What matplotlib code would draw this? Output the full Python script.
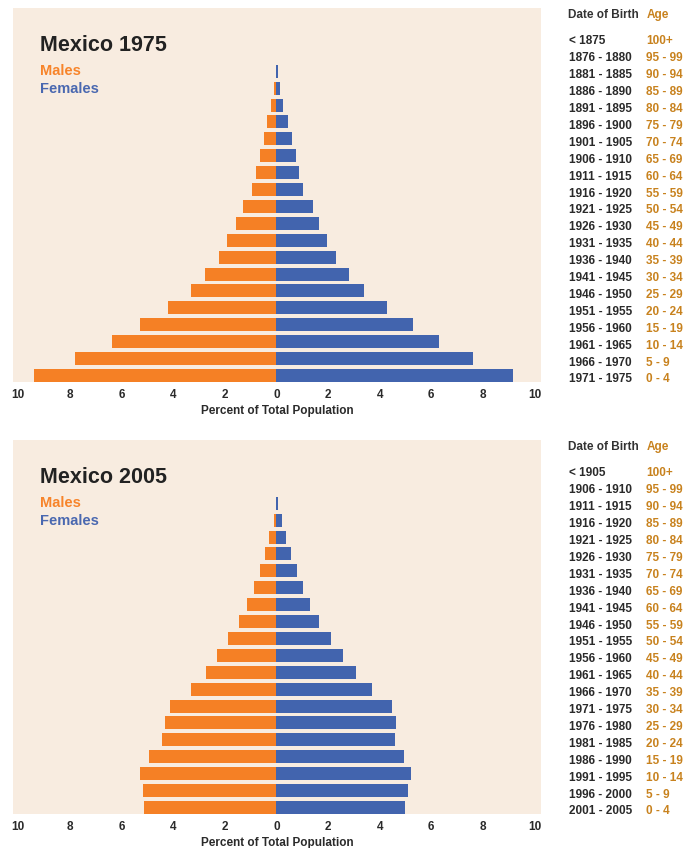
#!/usr/bin/env python3
import matplotlib
matplotlib.use("Agg")
import matplotlib.pyplot as plt
from matplotlib.transforms import blended_transform_factory

plt.rcParams["font.family"] = ["Liberation Sans", "DejaVu Sans"]
plt.rcParams["font.weight"] = "bold"

# ---------------------------------------------------------------------
# Data (percent of total population, oldest group first)
# ---------------------------------------------------------------------

age_groups = ["100+", "95 - 99", "90 - 94", "85 - 89", "80 - 84", "75 - 79",
              "70 - 74", "65 - 69", "60 - 64", "55 - 59", "50 - 54", "45 - 49",
              "40 - 44", "35 - 39", "30 - 34", "25 - 29", "20 - 24", "15 - 19",
              "10 - 14", "5 - 9", "0 - 4"]

births_1975 = ["< 1875", "1876 - 1880", "1881 - 1885", "1886 - 1890", "1891 - 1895",
               "1896 - 1900", "1901 - 1905", "1906 - 1910", "1911 - 1915",
               "1916 - 1920", "1921 - 1925", "1926 - 1930", "1931 - 1935",
               "1936 - 1940", "1941 - 1945", "1946 - 1950", "1951 - 1955",
               "1956 - 1960", "1961 - 1965", "1966 - 1970", "1971 - 1975"]

births_2005 = ["< 1905", "1906 - 1910", "1911 - 1915", "1916 - 1920", "1921 - 1925",
               "1926 - 1930", "1931 - 1935", "1936 - 1940", "1941 - 1945",
               "1946 - 1950", "1951 - 1955", "1956 - 1960", "1961 - 1965",
               "1966 - 1970", "1971 - 1975", "1976 - 1980", "1981 - 1985",
               "1986 - 1990", "1991 - 1995", "1996 - 2000", "2001 - 2005"]

males_1975 = [0.0, 0.0, 0.0, 0.08, 0.19, 0.35, 0.46, 0.62, 0.77, 0.93, 1.28,
              1.55, 1.90, 2.24, 2.75, 3.29, 4.18, 5.30, 6.38, 7.78, 9.40]
females_1975 = [0.0, 0.0, 0.05, 0.15, 0.27, 0.46, 0.62, 0.77, 0.89, 1.04, 1.43,
                1.66, 1.97, 2.32, 2.82, 3.40, 4.29, 5.30, 6.31, 7.62, 9.17]

males_2005 = [0.0, 0.0, 0.0, 0.08, 0.27, 0.43, 0.62, 0.85, 1.12, 1.43, 1.86,
              2.29, 2.71, 3.29, 4.10, 4.33, 4.41, 4.95, 5.30, 5.18, 5.14]
females_2005 = [0.0, 0.0, 0.08, 0.20, 0.39, 0.58, 0.81, 1.04, 1.32, 1.67, 2.13,
                2.60, 3.10, 3.72, 4.49, 4.64, 4.60, 4.95, 5.22, 5.10, 4.99]

ticks = [-10, -8, -6, -4, -2, 0, 2, 4, 6, 8, 10]

ORANGE = "#F58025"
BLUE = "#4264AE"
BG = "#F8ECE0"
AGE_COL = "#C8821E"
DARK = "#2A2A2A"

W, H = 695, 848


def draw_pyramid(fig, top_px, title, males, females, births):
	bottom_px = top_px + 374
	ax = fig.add_axes([13 / W, 1 - bottom_px / H, 528 / W, 374 / H])
	ax.set_facecolor(BG)
	rows = list(range(len(age_groups)))
	ax.barh(rows, [-m for m in males], height=0.77, color=ORANGE, linewidth=0)
	ax.barh(rows, females, height=0.77, color=BLUE, linewidth=0)
	ax.set_xlim(-10.2, 10.25)
	ax.set_ylim(20.385, -1.745)
	for s in ax.spines.values():
		s.set_visible(False)
	ax.set_yticks([])
	ax.set_xticks(ticks)
	ax.set_xticklabels([str(abs(t)) for t in ticks], fontsize=8.5,
		fontweight="bold")
	ax.tick_params(axis="x", length=0, pad=5, labelcolor=DARK)
	ax.set_xlabel("Percent of Total Population", fontsize=8.5, color=DARK,
		labelpad=3, fontweight="bold")

	ax.text(0.051, 0.885, title, transform=ax.transAxes, fontsize=15.5,
		color="#222222", fontweight="bold")
	ax.text(0.051, 0.82, "Males", transform=ax.transAxes, fontsize=10.5,
		color="#F7842A", fontweight="bold")
	ax.text(0.051, 0.772, "Females", transform=ax.transAxes, fontsize=10.5,
		color="#4A68B0", fontweight="bold")

	tr = blended_transform_factory(fig.transFigure, ax.transData)
	ax.text(568 / W, -1.18, "Date of Birth", transform=tr, fontsize=8.5,
		color="#333333", clip_on=False)
	ax.text(647 / W, -1.18, "Age", transform=tr, fontsize=8.5,
		color=AGE_COL, clip_on=False)
	for i, (b, a) in enumerate(zip(births, age_groups)):
		ax.text(569 / W, i + 0.41, b, transform=tr, fontsize=8.5,
			color=DARK, clip_on=False)
		ax.text(646 / W, i + 0.41, a, transform=tr, fontsize=8.5,
			color=AGE_COL, clip_on=False)
	return ax


def main():
	fig = plt.figure(figsize=(W / 100, H / 100), dpi=100)
	fig.patch.set_facecolor("white")
	draw_pyramid(fig, 8, "Mexico 1975", males_1975, females_1975, births_1975)
	draw_pyramid(fig, 440, "Mexico 2005", males_2005, females_2005, births_2005)
	fig.savefig("out.png", dpi=100)


if __name__ == "__main__":
	main()
